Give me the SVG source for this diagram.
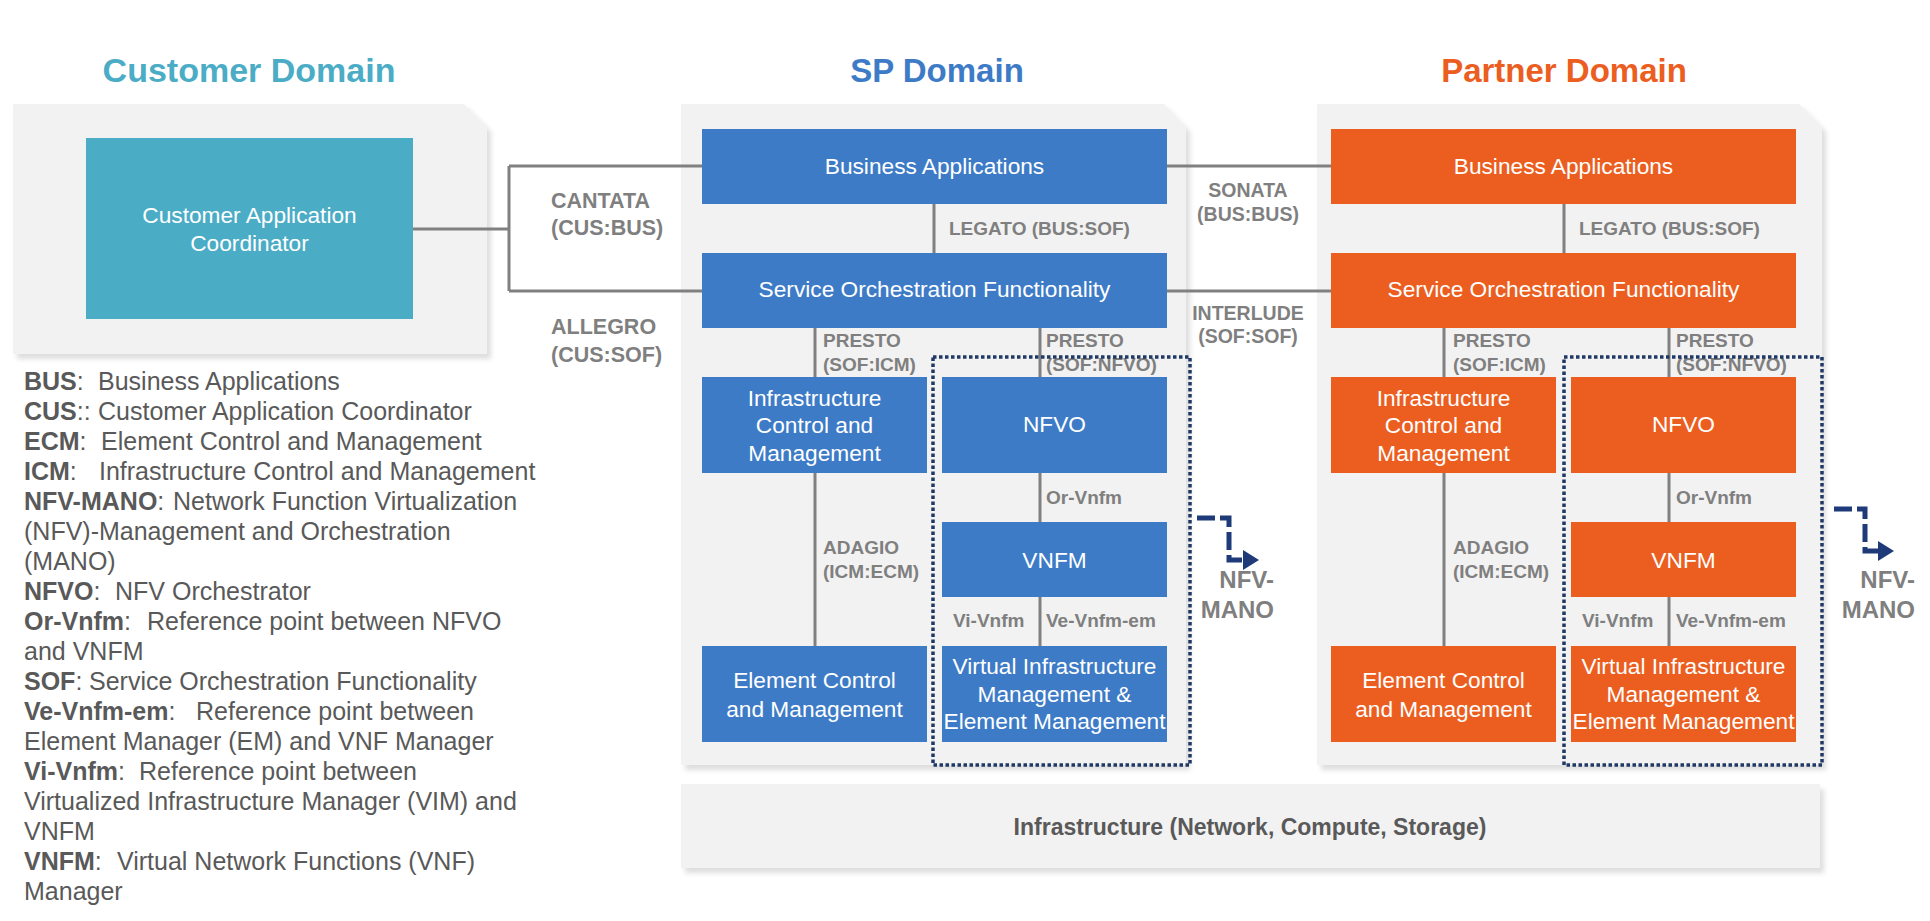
<svg xmlns="http://www.w3.org/2000/svg" width="1930" height="921" viewBox="0 0 1930 921">
<defs>
<filter id="sh" x="-5%" y="-5%" width="115%" height="115%">
<feDropShadow dx="4" dy="5" stdDeviation="2.5" flood-color="#000" flood-opacity="0.13"/>
</filter>
<style>
text{font-family:"Liberation Sans",Arial,sans-serif}
.panel{fill:#F2F2F2;filter:url(#sh)}
.title{font-size:33px;font-weight:bold;text-anchor:middle}
.bx{font-size:22.7px;fill:#fff;text-anchor:middle}
.sp{fill:#3D7BC7}
.pt{fill:#EB5E1F}
.cu{fill:#4BACC6}
.ln{stroke:#808080;stroke-width:3;fill:none}
.lb{font-size:19px;font-weight:bold;fill:#7F7F7F}
.lb2{font-size:21.5px;font-weight:bold;fill:#7F7F7F}
.lb3{font-size:19.5px;font-weight:bold;fill:#7F7F7F;text-anchor:middle}
.dot{fill:none;stroke:#1F3864;stroke-width:3.5;stroke-dasharray:3.5 2.5}
.arr{fill:none;stroke:#1F3A78;stroke-width:5;stroke-dasharray:18 5}
.arh{fill:#1F3A78}
.mano{font-size:24px;font-weight:bold;fill:#7F7F7F;text-anchor:end}
.lg{font-size:25px;fill:#595959}
.lg tspan.b{font-weight:bold}
.infra{font-size:23px;font-weight:bold;fill:#595959;text-anchor:middle}
</style>
</defs>

<!-- titles -->
<g id="titles">
<text class="title" x="249" y="82" fill="#4BACC6" style="font-size:34px">Customer Domain</text>
<text class="title" x="937" y="82" fill="#3D7BC7">SP Domain</text>
<text class="title" x="1564" y="82" fill="#EB5E1F">Partner Domain</text>
</g>

<!-- panels -->
<g id="customer-domain">
<path class="panel" d="M13,104 H464 L487,127 V354 H13 Z"/>
</g>
<g id="sp-domain">
<path class="panel" d="M681,104 H1164 L1186,127 V765 H681 Z"/>
</g>
<g id="partner-domain">
<path class="panel" d="M1317,104 H1799 L1822,127 V765 H1317 Z"/>
</g>
<g id="infrastructure">
<rect class="panel" x="681" y="784" width="1139" height="84"/>
<text class="infra" x="1250" y="835">Infrastructure (Network, Compute, Storage)</text>
</g>

<!-- connectors -->
<g id="connectors">
<path class="ln" d="M413,229 H509 M509,166 V291 M509,166 H702 M509,291 H702"/>
<path class="ln" d="M1167,166 H1331 M1167,291 H1331"/>
<path class="ln" d="M934,204 V253 M815,328 V377 M1040,328 V377 M815,473 V646 M1040,473 V522 M1040,597 V646"/>
<path class="ln" d="M1564,204 V253 M1444,328 V377 M1669,328 V377 M1444,473 V646 M1669,473 V522 M1669,597 V646"/>
</g>

<!-- connector labels -->
<g id="labels">
<text class="lb2" x="551" y="208">CANTATA</text>
<text class="lb2" x="551" y="235">(CUS:BUS)</text>
<text class="lb2" x="551" y="334">ALLEGRO</text>
<text class="lb2" x="551" y="362">(CUS:SOF)</text>
<text class="lb3" x="1248" y="197">SONATA</text>
<text class="lb3" x="1248" y="221">(BUS:BUS)</text>
<text class="lb3" x="1248" y="320">INTERLUDE</text>
<text class="lb3" x="1248" y="343">(SOF:SOF)</text>

<text class="lb" x="949" y="235">LEGATO (BUS:SOF)</text>
<text class="lb" x="823" y="347">PRESTO</text>
<text class="lb" x="823" y="371">(SOF:ICM)</text>
<text class="lb" x="1046" y="347">PRESTO</text>
<text class="lb" x="1046" y="371">(SOF:NFVO)</text>
<text class="lb" x="1046" y="504">Or-Vnfm</text>
<text class="lb" x="823" y="554">ADAGIO</text>
<text class="lb" x="823" y="578">(ICM:ECM)</text>
<text class="lb" x="953" y="627">Vi-Vnfm</text>
<text class="lb" x="1046" y="627">Ve-Vnfm-em</text>

<text class="lb" x="1579" y="235">LEGATO (BUS:SOF)</text>
<text class="lb" x="1453" y="347">PRESTO</text>
<text class="lb" x="1453" y="371">(SOF:ICM)</text>
<text class="lb" x="1676" y="347">PRESTO</text>
<text class="lb" x="1676" y="371">(SOF:NFVO)</text>
<text class="lb" x="1676" y="504">Or-Vnfm</text>
<text class="lb" x="1453" y="554">ADAGIO</text>
<text class="lb" x="1453" y="578">(ICM:ECM)</text>
<text class="lb" x="1582" y="627">Vi-Vnfm</text>
<text class="lb" x="1676" y="627">Ve-Vnfm-em</text>
</g>

<!-- customer node -->
<g id="cac">
<rect class="cu" x="86" y="138" width="327" height="181"/>
<text class="bx" x="249.5" y="223">Customer Application</text>
<text class="bx" x="249.5" y="251">Coordinator</text>
</g>

<!-- SP nodes -->
<g id="sp-bus">
<rect class="sp" x="702" y="129" width="465" height="75"/>
<text class="bx" x="934.5" y="174">Business Applications</text>
</g>
<g id="sp-sof">
<rect class="sp" x="702" y="253" width="465" height="75"/>
<text class="bx" x="934.5" y="297">Service Orchestration Functionality</text>
</g>
<g id="sp-icm">
<rect class="sp" x="702" y="377" width="225" height="96"/>
<text class="bx" x="814.5" y="406">Infrastructure</text>
<text class="bx" x="814.5" y="433">Control and</text>
<text class="bx" x="814.5" y="461">Management</text>
</g>
<g id="sp-nfvo">
<rect class="sp" x="942" y="377" width="225" height="96"/>
<text class="bx" x="1054.5" y="432">NFVO</text>
</g>
<g id="sp-vnfm">
<rect class="sp" x="942" y="522" width="225" height="75"/>
<text class="bx" x="1054.5" y="568">VNFM</text>
</g>
<g id="sp-ecm">
<rect class="sp" x="702" y="646" width="225" height="96"/>
<text class="bx" x="814.5" y="688">Element Control</text>
<text class="bx" x="814.5" y="717">and Management</text>
</g>
<g id="sp-vim">
<rect class="sp" x="942" y="646" width="225" height="96"/>
<text class="bx" x="1054.5" y="674">Virtual Infrastructure</text>
<text class="bx" x="1054.5" y="702">Management &amp;</text>
<text class="bx" x="1054.5" y="729">Element Management</text>
</g>
<g id="sp-mano">
<rect class="dot" x="933" y="357" width="257" height="408"/>
<path class="arr" d="M1197,518 H1229 V560 H1246"/>
<polygon class="arh" points="1243,550 1259,560 1243,570"/>
<text class="mano" x="1274" y="588">NFV-</text>
<text class="mano" x="1274" y="618">MANO</text>
</g>

<!-- Partner nodes -->
<g id="pt-bus">
<rect class="pt" x="1331" y="129" width="465" height="75"/>
<text class="bx" x="1563.5" y="174">Business Applications</text>
</g>
<g id="pt-sof">
<rect class="pt" x="1331" y="253" width="465" height="75"/>
<text class="bx" x="1563.5" y="297">Service Orchestration Functionality</text>
</g>
<g id="pt-icm">
<rect class="pt" x="1331" y="377" width="225" height="96"/>
<text class="bx" x="1443.5" y="406">Infrastructure</text>
<text class="bx" x="1443.5" y="433">Control and</text>
<text class="bx" x="1443.5" y="461">Management</text>
</g>
<g id="pt-nfvo">
<rect class="pt" x="1571" y="377" width="225" height="96"/>
<text class="bx" x="1683.5" y="432">NFVO</text>
</g>
<g id="pt-vnfm">
<rect class="pt" x="1571" y="522" width="225" height="75"/>
<text class="bx" x="1683.5" y="568">VNFM</text>
</g>
<g id="pt-ecm">
<rect class="pt" x="1331" y="646" width="225" height="96"/>
<text class="bx" x="1443.5" y="688">Element Control</text>
<text class="bx" x="1443.5" y="717">and Management</text>
</g>
<g id="pt-vim">
<rect class="pt" x="1571" y="646" width="225" height="96"/>
<text class="bx" x="1683.5" y="674">Virtual Infrastructure</text>
<text class="bx" x="1683.5" y="702">Management &amp;</text>
<text class="bx" x="1683.5" y="729">Element Management</text>
</g>
<g id="pt-mano">
<rect class="dot" x="1564" y="357" width="258" height="408"/>
<path class="arr" d="M1834,509 H1865 V551 H1881"/>
<polygon class="arh" points="1878,541 1894,551 1878,561"/>
<text class="mano" x="1915" y="588">NFV-</text>
<text class="mano" x="1915" y="618">MANO</text>
</g>

<!-- legend -->
<g id="legend" class="lg">
<text class="lg" x="24" y="390"><tspan class="b">BUS</tspan>:<tspan x="98">Business Applications</tspan></text>
<text class="lg" x="24" y="420"><tspan class="b">CUS</tspan>::<tspan x="98">Customer Application Coordinator</tspan></text>
<text class="lg" x="24" y="450"><tspan class="b">ECM</tspan>:<tspan x="101">Element Control and Management</tspan></text>
<text class="lg" x="24" y="480"><tspan class="b">ICM</tspan>:<tspan x="99">Infrastructure Control and Management</tspan></text>
<text class="lg" x="24" y="510"><tspan class="b">NFV-MANO</tspan>:<tspan x="173">Network Function Virtualization</tspan></text>
<text class="lg" x="24" y="540">(NFV)-Management and Orchestration</text>
<text class="lg" x="24" y="570">(MANO)</text>
<text class="lg" x="24" y="600"><tspan class="b">NFVO</tspan>:<tspan x="115">NFV Orchestrator</tspan></text>
<text class="lg" x="24" y="630"><tspan class="b">Or-Vnfm</tspan>:<tspan x="147">Reference point between NFVO</tspan></text>
<text class="lg" x="24" y="660">and VNFM</text>
<text class="lg" x="24" y="690"><tspan class="b">SOF</tspan>:<tspan x="89">Service Orchestration Functionality</tspan></text>
<text class="lg" x="24" y="720"><tspan class="b">Ve-Vnfm-em</tspan>:<tspan x="196">Reference point between</tspan></text>
<text class="lg" x="24" y="750">Element Manager (EM) and VNF Manager</text>
<text class="lg" x="24" y="780"><tspan class="b">Vi-Vnfm</tspan>:<tspan x="139">Reference point between</tspan></text>
<text class="lg" x="24" y="810">Virtualized Infrastructure Manager (VIM) and</text>
<text class="lg" x="24" y="840">VNFM</text>
<text class="lg" x="24" y="870"><tspan class="b">VNFM</tspan>:<tspan x="117">Virtual Network Functions (VNF)</tspan></text>
<text class="lg" x="24" y="900">Manager</text>
</g>
</svg>
